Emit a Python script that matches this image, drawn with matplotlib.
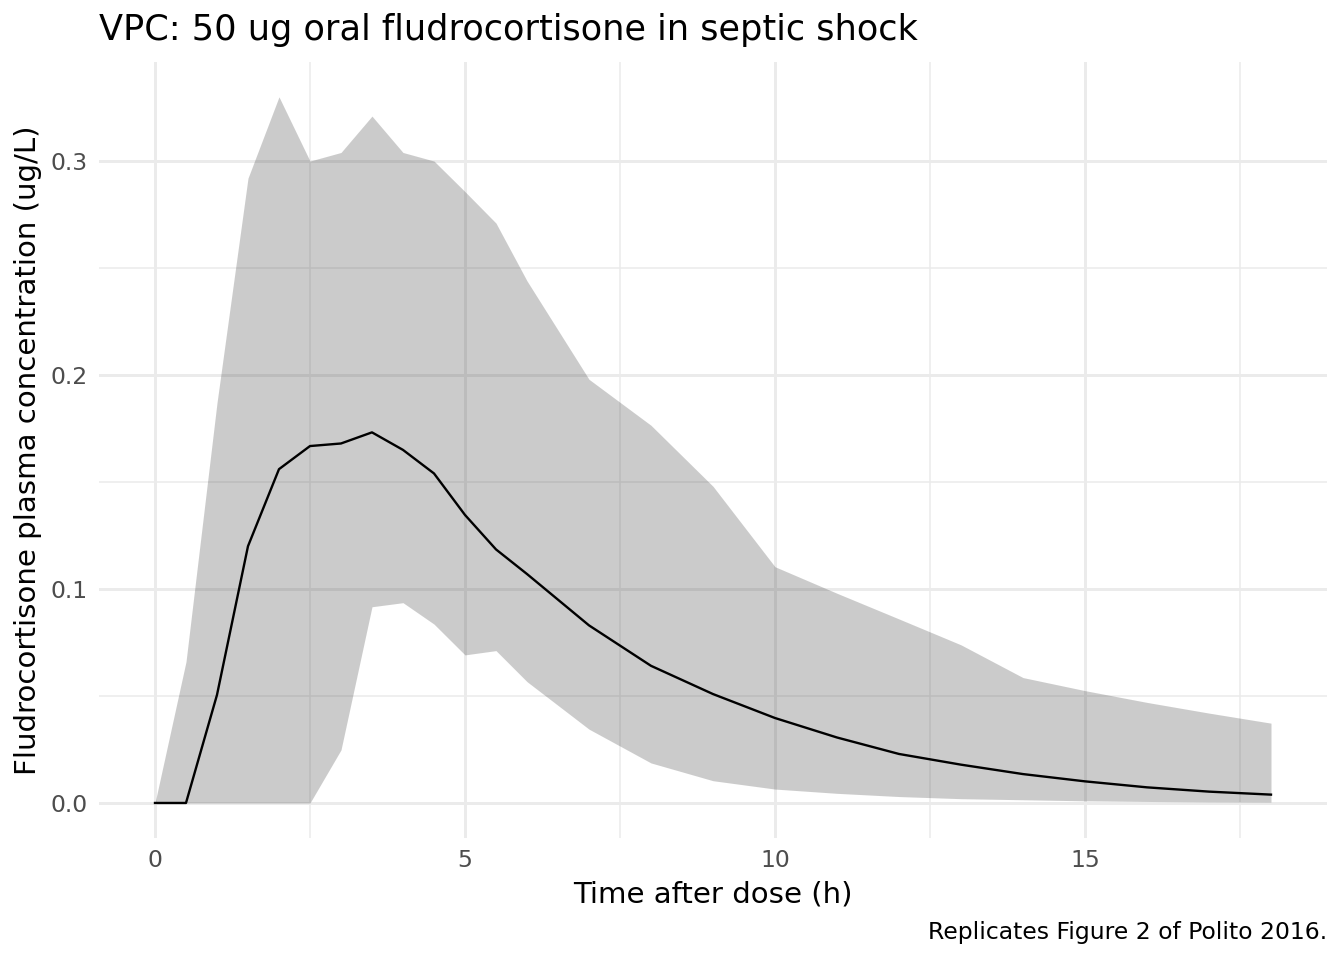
import numpy as np
import matplotlib
matplotlib.use("Agg")
from matplotlib import pyplot as plt
from matplotlib.ticker import MultipleLocator

# time after dose (h)
time_h = [0, 0.5, 1, 1.5, 2, 2.5, 3, 3.5, 4, 4.5, 5, 5.5, 6,
          7, 8, 9, 10, 11, 12, 13, 14, 15, 16, 17, 18]

# simulated median and 90% interval (ug/L)
median_conc = [0, 0, 0.0505, 0.120, 0.156, 0.1668, 0.168, 0.1732, 0.165, 0.154,
               0.1346, 0.1185, 0.107, 0.0830, 0.0641, 0.0509, 0.0397, 0.0306,
               0.0229, 0.0179, 0.0135, 0.0101, 0.0073, 0.0053, 0.0039]
lower_conc = [0, 0, 0, 0, 0, 0, 0.0248, 0.0917, 0.0936, 0.0836,
              0.0692, 0.0712, 0.0567, 0.0345, 0.0187, 0.0104, 0.0065, 0.0045,
              0.0030, 0.0020, 0.0015, 0.0010, 0.0007, 0.0005, 0.0004]
upper_conc = [0, 0.066, 0.187, 0.292, 0.330, 0.300, 0.304, 0.321, 0.304, 0.300,
              0.2857, 0.271, 0.244, 0.198, 0.1765, 0.148, 0.1104, 0.098,
              0.086, 0.0739, 0.0586, 0.0525, 0.047, 0.042, 0.0373]

TITLE = "VPC: 50 ug oral fludrocortisone in septic shock"
X_LABEL = "Time after dose (h)"
Y_LABEL = "Fludrocortisone plasma concentration (ug/L)"
CAPTION = "Replicates Figure 2 of Polito 2016."

plt.rcParams['font.family'] = ['DejaVu Sans']

fig = plt.figure(figsize=(13.44, 9.6), dpi=100)
ax = fig.add_axes([0.0738, 0.1268, 0.9134, 0.8091])

ax.fill_between(time_h, lower_conc, upper_conc, color='#333333', alpha=0.25,
                linewidth=0, zorder=3)
ax.plot(time_h, median_conc, color='black', linewidth=1.7, zorder=4)

ax.set_xlim(-0.9, 18.9)
ax.set_ylim(-0.0165, 0.3465)
ax.xaxis.set_minor_locator(MultipleLocator(2.5))
ax.yaxis.set_minor_locator(MultipleLocator(0.05))
ax.set_xticks([0, 5, 10, 15])
ax.set_xticklabels(['0', '5', '10', '15'])
ax.set_yticks([0, 0.1, 0.2, 0.3])
ax.set_yticklabels(['0.0', '0.1', '0.2', '0.3'])

ax.grid(which='major', color='#EBEBEB', linewidth=2.1, zorder=0)
ax.grid(which='minor', color='#EBEBEB', linewidth=1.1, zorder=0)
ax.set_axisbelow(True)
for s in ax.spines.values():
    s.set_visible(False)
ax.tick_params(which='both', length=0, labelsize=16.9, labelcolor='#4D4D4D', pad=8)

ax.set_xlabel(X_LABEL, fontsize=21.1, labelpad=6)
ax.set_ylabel(Y_LABEL, fontsize=21.1, labelpad=6)

fig.text(0.0738, 0.969, TITLE, fontsize=25.3, ha='left', va='center')
fig.text(0.9872, 0.029, CAPTION, fontsize=16.9, ha='right', va='center')

fig.savefig("out.png", dpi=100, facecolor='white')
